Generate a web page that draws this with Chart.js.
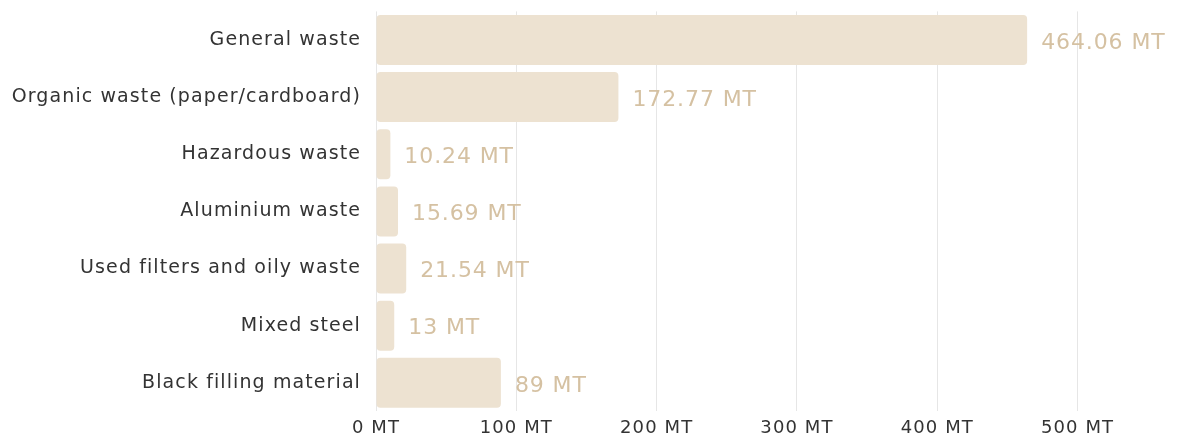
<!DOCTYPE html>
<html>
<head>
<meta charset="utf-8">
<script src="https://cdn.jsdelivr.net/npm/chart.js@4.4.1/dist/chart.umd.min.js"></script>
<style>
  html, body { margin: 0; padding: 0; background: #ffffff; }
  #wrap { width: 1190px; height: 442px; position: relative; }
</style>
</head>
<body>
<div id="wrap"><canvas id="chart"></canvas></div>
<script>
// Waste quantities by category, in metric tonnes
const categories = [
  'General waste',
  'Organic waste (paper/cardboard)',
  'Hazardous waste',
  'Aluminium waste',
  'Used filters and oily waste',
  'Mixed steel',
  'Black filling material'
];
const tonnes = [464.06, 172.77, 10.24, 15.69, 21.54, 13, 89];
const unit = 'MT';

const FONT = '"DejaVu Sans", sans-serif';
const BAR = '#ede2d1';
const VALUE = '#d5c1a2';
const TEXT = '#333333';

// Slightly open tracking for the axis labels
const tracking = {
  id: 'tracking',
  beforeDraw(chart) {
    chart.ctx.letterSpacing = '1.1px';
  }
};

// Writes "<value> MT" just past the end of each bar
const valueLabels = {
  id: 'valueLabels',
  afterDatasetsDraw(chart) {
    const { ctx } = chart;
    const meta = chart.getDatasetMeta(0);
    ctx.save();
    ctx.letterSpacing = '0.9px';
    ctx.font = '22px ' + FONT;
    ctx.fillStyle = VALUE;
    ctx.textAlign = 'left';
    ctx.textBaseline = 'middle';
    meta.data.forEach((bar, i) => {
      ctx.fillText(tonnes[i] + ' ' + unit, bar.x + 14, bar.y + 3);
    });
    ctx.restore();
  }
};

new Chart(document.getElementById('chart'), {
  type: 'bar',
  data: {
    labels: categories,
    datasets: [{
      data: tonnes,
      backgroundColor: BAR,
      borderRadius: 4,
      borderSkipped: false,
      barPercentage: 0.875,
      categoryPercentage: 1
    }]
  },
  options: {
    indexAxis: 'y',
    responsive: true,
    maintainAspectRatio: false,
    animation: false,
    layout: { padding: { top: 0, right: 10, bottom: -3, left: 0 } },
    plugins: { legend: { display: false }, tooltip: { enabled: false } },
    scales: {
      x: {
        min: 0,
        max: 573,
        afterBuildTicks(scale) {
          scale.ticks = scale.ticks.filter(t => t.value % 100 === 0);
        },
        ticks: {
          stepSize: 100,
          color: TEXT,
          font: { family: FONT, size: 18 },
          padding: 6,
          callback: v => v + ' ' + unit
        },
        grid: { color: '#e6e6e6', drawTicks: false },
        border: { display: false }
      },
      y: {
        afterFit(scale) { scale.width = 376; },
        ticks: {
          color: TEXT,
          font: { family: FONT, size: 19 },
          padding: 0
        },
        // invisible tick marks keep the labels 15px clear of the bars
        grid: {
          drawOnChartArea: false,
          drawTicks: true,
          tickLength: 15,
          tickColor: 'rgba(0,0,0,0)'
        },
        border: { display: false }
      }
    }
  },
  plugins: [tracking, valueLabels]
});
</script>
</body>
</html>
